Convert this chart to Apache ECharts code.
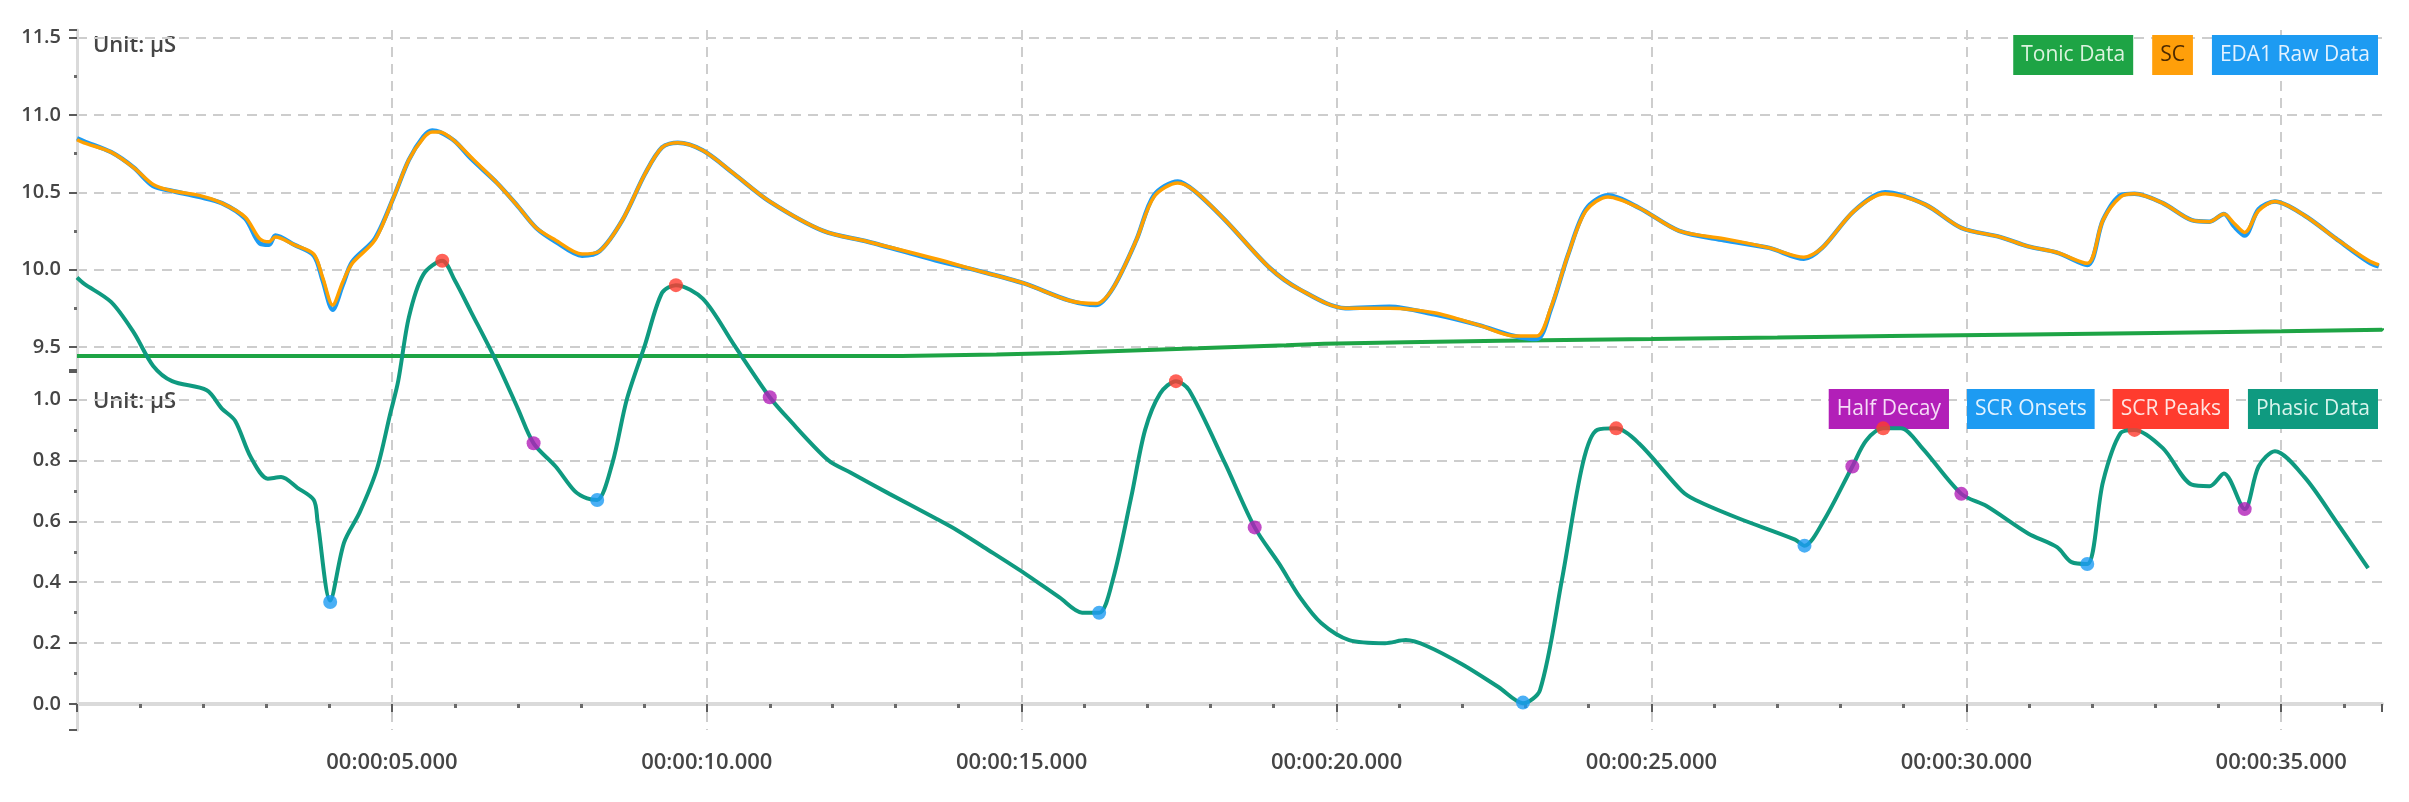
<!DOCTYPE html>
<html>
<head>
<meta charset="utf-8">
<title>EDA</title>
<script src="https://cdn.jsdelivr.net/npm/echarts@6/dist/echarts.min.js"></script>
<style>
  html, body { margin: 0; padding: 0; background: #fff; }
  #chart { width: 2409px; height: 802px; }
</style>
</head>
<body>
<div id="chart"></div>
<script>
// time in seconds, values in µS
const scData = [
  [0.0, 10.84], [0.11, 10.82], [0.54, 10.76], [0.9, 10.66], [1.21, 10.55], [1.5, 10.51],
  [1.94, 10.48], [2.3, 10.43], [2.67, 10.34], [2.9, 10.2], [3.05, 10.18], [3.15, 10.21],
  [3.45, 10.16], [3.76, 10.1], [3.9, 9.95], [4.06, 9.77], [4.22, 9.92], [4.37, 10.04],
  [4.73, 10.19], [5.03, 10.47], [5.27, 10.71], [5.5, 10.85], [5.64, 10.89], [5.76, 10.89],
  [6.0, 10.83], [6.25, 10.73], [6.67, 10.56], [7.0, 10.41], [7.29, 10.27], [7.6, 10.19],
  [8.02, 10.1], [8.3, 10.12], [8.66, 10.32], [9.02, 10.62], [9.29, 10.79], [9.54, 10.82],
  [9.94, 10.77], [10.43, 10.62], [11.0, 10.44], [11.85, 10.25], [12.56, 10.18], [13.63, 10.07],
  [14.33, 9.99], [15.04, 9.91], [15.75, 9.8], [16.18, 9.78], [16.45, 9.88], [16.82, 10.19],
  [17.1, 10.47], [17.48, 10.56], [17.74, 10.51], [18.23, 10.32], [18.94, 10.01], [19.42, 9.87],
  [20.14, 9.75], [20.84, 9.75], [21.55, 9.72], [22.26, 9.64], [22.82, 9.57], [23.18, 9.57],
  [23.4, 9.75], [23.68, 10.1], [23.96, 10.38], [24.31, 10.47], [24.8, 10.4], [25.44, 10.25],
  [26.15, 10.2], [26.87, 10.14], [27.42, 10.08], [27.71, 10.14], [28.22, 10.38], [28.71, 10.49],
  [29.35, 10.42], [29.92, 10.27], [30.54, 10.21], [30.98, 10.15], [31.44, 10.11], [31.92, 10.04],
  [32.17, 10.32], [32.45, 10.47], [32.67, 10.49], [33.12, 10.43], [33.58, 10.32], [33.86, 10.31],
  [34.09, 10.36], [34.25, 10.3], [34.42, 10.24], [34.64, 10.38], [34.9, 10.44], [35.37, 10.35],
  [35.87, 10.2], [36.38, 10.06], [36.55, 10.03]
];

const rawData = [
  [0.0, 10.85], [0.11, 10.83], [0.54, 10.76], [0.9, 10.66], [1.21, 10.54], [1.5, 10.51],
  [1.94, 10.47], [2.3, 10.43], [2.67, 10.33], [2.9, 10.17], [3.05, 10.16], [3.15, 10.22],
  [3.45, 10.16], [3.76, 10.09], [3.9, 9.93], [4.06, 9.74], [4.22, 9.9], [4.37, 10.05],
  [4.73, 10.2], [5.03, 10.47], [5.27, 10.71], [5.5, 10.86], [5.64, 10.9], [5.76, 10.89],
  [6.0, 10.83], [6.25, 10.72], [6.67, 10.56], [7.0, 10.41], [7.29, 10.27], [7.6, 10.18],
  [8.02, 10.09], [8.3, 10.12], [8.66, 10.32], [9.02, 10.62], [9.29, 10.79], [9.54, 10.82],
  [9.94, 10.77], [10.43, 10.62], [11.0, 10.44], [11.85, 10.25], [12.56, 10.18], [13.63, 10.06],
  [14.33, 9.99], [15.04, 9.91], [15.75, 9.8], [16.18, 9.77], [16.45, 9.88], [16.82, 10.19],
  [17.1, 10.48], [17.48, 10.57], [17.74, 10.51], [18.23, 10.32], [18.94, 10.01], [19.42, 9.87],
  [20.14, 9.75], [20.84, 9.76], [21.55, 9.71], [22.26, 9.64], [22.82, 9.57], [23.18, 9.55],
  [23.4, 9.74], [23.68, 10.1], [23.96, 10.39], [24.31, 10.48], [24.8, 10.4], [25.44, 10.25],
  [26.15, 10.19], [26.87, 10.14], [27.42, 10.07], [27.71, 10.14], [28.22, 10.38], [28.71, 10.5],
  [29.35, 10.42], [29.92, 10.27], [30.54, 10.21], [30.98, 10.15], [31.44, 10.11], [31.92, 10.03],
  [32.17, 10.32], [32.45, 10.48], [32.67, 10.49], [33.12, 10.43], [33.58, 10.32], [33.86, 10.31],
  [34.09, 10.36], [34.25, 10.28], [34.42, 10.22], [34.64, 10.39], [34.9, 10.44], [35.37, 10.35],
  [35.87, 10.2], [36.38, 10.05], [36.55, 10.02]
];

const tonicData = [
  [0, 9.44], [13.1, 9.45], [14.6, 9.46], [15.6, 9.47], [16.3, 9.48], [17.0, 9.49],
  [17.8, 9.5], [18.5, 9.51], [19.2, 9.52], [19.8, 9.53], [21.1, 9.54], [22.6, 9.55],
  [25.0, 9.56], [27.0, 9.57], [28.8, 9.58], [31.0, 9.59], [33.0, 9.6], [35.0, 9.61],
  [36.6, 9.62]
];

const phasicData = [
  [0.0, 1.4], [0.11, 1.38], [0.54, 1.32], [0.9, 1.22], [1.21, 1.11], [1.51, 1.06],
  [2.06, 1.03], [2.3, 0.97], [2.51, 0.93], [2.76, 0.81], [3.03, 0.74], [3.24, 0.745],
  [3.5, 0.71], [3.76, 0.67], [3.82, 0.6], [4.02, 0.34], [4.24, 0.53], [4.49, 0.63],
  [4.76, 0.77], [4.97, 0.95], [5.1, 1.06], [5.27, 1.27], [5.5, 1.41], [5.8, 1.455],
  [6.0, 1.39], [6.25, 1.29], [6.67, 1.12], [7.0, 0.97], [7.25, 0.856], [7.6, 0.78],
  [7.9, 0.7], [8.1, 0.675], [8.26, 0.67], [8.5, 0.79], [8.73, 1.0], [9.02, 1.18],
  [9.29, 1.35], [9.51, 1.375], [9.94, 1.33], [10.43, 1.18], [11.0, 1.007], [11.28, 0.94],
  [11.93, 0.8], [12.28, 0.76], [12.9, 0.69], [13.63, 0.61], [13.98, 0.57], [14.4, 0.515],
  [15.04, 0.43], [15.6, 0.35], [15.96, 0.3], [16.23, 0.3], [16.45, 0.41], [16.74, 0.68],
  [16.96, 0.9], [17.2, 1.02], [17.45, 1.06], [17.66, 1.03], [18.23, 0.79], [18.7, 0.58],
  [19.09, 0.46], [19.42, 0.35], [19.76, 0.265], [20.2, 0.21], [20.77, 0.2], [21.1, 0.21],
  [21.44, 0.19], [22.0, 0.13], [22.57, 0.056], [22.96, 0.003], [23.23, 0.046], [23.58, 0.41],
  [23.91, 0.79], [24.14, 0.9], [24.44, 0.905], [24.8, 0.856], [25.48, 0.7], [25.7, 0.67],
  [26.38, 0.61], [27.28, 0.54], [27.43, 0.52], [27.73, 0.6], [28.19, 0.78], [28.41, 0.865],
  [28.68, 0.905], [28.96, 0.905], [29.3, 0.84], [29.92, 0.69], [30.32, 0.65], [30.98, 0.56],
  [31.44, 0.515], [31.67, 0.466], [31.92, 0.46], [32.17, 0.73], [32.45, 0.89], [32.67, 0.9],
  [33.12, 0.84], [33.58, 0.72], [33.86, 0.715], [34.09, 0.757], [34.42, 0.64], [34.64, 0.78],
  [34.9, 0.83], [35.37, 0.745], [35.87, 0.6], [36.38, 0.446]
];

const onsetData = [[4.02, 0.335], [8.26, 0.67], [16.23, 0.3], [22.96, 0.005], [27.43, 0.52], [31.92, 0.46]];
const peakData = [[5.8, 1.455], [9.51, 1.375], [17.45, 1.06], [24.44, 0.905], [28.68, 0.905], [32.67, 0.9]];
const halfDecayData = [[7.25, 0.856], [11.0, 1.007], [18.7, 0.58], [28.19, 0.78], [29.92, 0.69], [34.42, 0.64]];

const FONT = '"Open Sans", "Noto Sans", sans-serif';
const labelColor = '#454545';
const gridDash = { color: '#cdcdcd', width: 2, type: [10, 7] };

function legendItem(name, bg, fg) {
  return {
    name: name,
    textStyle: {
      backgroundColor: bg,
      color: fg,
      padding: [7, 8, 7, 8],
      fontSize: 21,
      lineHeight: 26,
      fontFamily: FONT
    }
  };
}

function timeLabel(v) {
  const s = String(Math.round(v)).padStart(2, '0');
  return '00:00:' + s + '.000';
}

const chart = echarts.init(document.getElementById('chart'));

const yAxisCommon = {
  type: 'value',
  axisLine: { show: true, lineStyle: { color: '#dadada', width: 3 } },
  axisTick: { show: true, length: 8, lineStyle: { color: '#5a5a5a', width: 2 } },
  minorTick: { show: true, splitNumber: 2, length: 3, lineStyle: { color: '#6a6a6a', width: 3 } },
  splitLine: { show: true, showMinLine: false, showMaxLine: false, lineStyle: gridDash },
  axisLabel: {
    showMinLabel: false,
    showMaxLabel: false,
    margin: 16,
    color: labelColor,
    fontSize: 20,
    fontWeight: 600,
    fontFamily: FONT
  }
};

chart.setOption({
  animation: false,
  backgroundColor: '#ffffff',
  grid: [
    { left: 77, right: 27, top: 30, bottom: 432 },
    { left: 77, right: 27, top: 372, bottom: 72 }
  ],
  legend: [
    {
      right: 26, top: 30, itemWidth: 0, itemHeight: 0, itemGap: 13, selectedMode: false,
      data: [
        legendItem('Tonic Data', '#1ea445', '#dcf3df'),
        legendItem('SC', '#ff9f0a', '#4d2a00'),
        legendItem('EDA1 Raw Data', '#1d9bf2', '#e2f2ff')
      ]
    },
    {
      right: 26, top: 384, itemWidth: 0, itemHeight: 0, itemGap: 13, selectedMode: false,
      data: [
        legendItem('Half Decay', '#b21fb8', '#f6dcf7'),
        legendItem('SCR Onsets', '#1d9bf2', '#e2f2ff'),
        legendItem('SCR Peaks', '#ff3b2e', '#ffe4e1'),
        legendItem('Phasic Data', '#0f9a80', '#d8f4ec')
      ]
    }
  ],
  graphic: [
    { type: 'text', left: 93, top: 35, style: { text: 'Unit: µS', fontSize: 22, fontWeight: 600, fontFamily: FONT, fill: labelColor } },
    { type: 'text', left: 93, top: 391, style: { text: 'Unit: µS', fontSize: 22, fontWeight: 600, fontFamily: FONT, fill: labelColor } }
  ],
  xAxis: [
    {
      type: 'value', gridIndex: 0, min: 0, max: 36.6, interval: 5,
      axisLine: { show: false }, axisTick: { show: false }, axisLabel: { show: false },
      splitLine: { show: true, showMinLine: false, showMaxLine: false, lineStyle: gridDash }
    },
    {
      type: 'value', gridIndex: 1, min: 0, max: 36.6, interval: 5,
      axisLine: { show: true, lineStyle: { color: '#dadada', width: 4 } },
      axisTick: { show: true, length: 8, lineStyle: { color: '#5a5a5a', width: 2 } },
      minorTick: { show: true, splitNumber: 5, length: 4, lineStyle: { color: '#6a6a6a', width: 3 } },
      splitLine: { show: true, showMinLine: false, showMaxLine: false, lineStyle: gridDash },
      axisLabel: {
        showMinLabel: false, showMaxLabel: false, margin: 22,
        color: labelColor, fontSize: 22, fontWeight: 600, fontFamily: FONT,
        formatter: timeLabel
      }
    }
  ],
  yAxis: [
    Object.assign({}, yAxisCommon, {
      gridIndex: 0, min: 9.35, max: 11.55,
      axisLabel: Object.assign({}, yAxisCommon.axisLabel, {
        formatter: v => (Math.abs(v * 2 - Math.round(v * 2)) < 1e-6 ? v.toFixed(1) : '')
      })
    }),
    Object.assign({}, yAxisCommon, {
      gridIndex: 1, min: -0.085, max: 1.09,
      axisLabel: Object.assign({}, yAxisCommon.axisLabel, {
        formatter: v => (Math.abs(v * 5 - Math.round(v * 5)) < 1e-6 ? v.toFixed(1) : '')
      })
    })
  ],
  series: [
    {
      name: 'Tonic Data', type: 'line', xAxisIndex: 0, yAxisIndex: 0, step: 'end',
      data: tonicData, showSymbol: false, color: '#1ea445',
      lineStyle: { width: 4, color: '#1ea445' }, z: 2
    },
    {
      name: 'EDA1 Raw Data', type: 'line', xAxisIndex: 0, yAxisIndex: 0, smooth: 0.3,
      data: rawData, showSymbol: false, color: '#1d9bf2',
      lineStyle: { width: 4.5, color: '#1d9bf2' }, z: 3
    },
    {
      name: 'SC', type: 'line', xAxisIndex: 0, yAxisIndex: 0, smooth: 0.3,
      data: scData, showSymbol: false, color: '#ffa000',
      lineStyle: { width: 3.5, color: '#ffa000' }, z: 4
    },
    {
      name: 'Phasic Data', type: 'line', xAxisIndex: 1, yAxisIndex: 1, smooth: 0.3, clip: false,
      data: phasicData, showSymbol: false, color: '#0f9a80',
      lineStyle: { width: 4, color: '#0f9a80' }, z: 5
    },
    {
      name: 'SCR Onsets', type: 'scatter', xAxisIndex: 1, yAxisIndex: 1, clip: false,
      data: onsetData, symbolSize: 14, itemStyle: { color: '#1d9bf2' }, z: 6
    },
    {
      name: 'SCR Peaks', type: 'scatter', xAxisIndex: 1, yAxisIndex: 1, clip: false,
      data: peakData, symbolSize: 14, itemStyle: { color: '#ff3b2e' }, z: 6
    },
    {
      name: 'Half Decay', type: 'scatter', xAxisIndex: 1, yAxisIndex: 1, clip: false,
      data: halfDecayData, symbolSize: 14, itemStyle: { color: '#b21fb8' }, z: 6
    }
  ]
});
</script>
</body>
</html>
